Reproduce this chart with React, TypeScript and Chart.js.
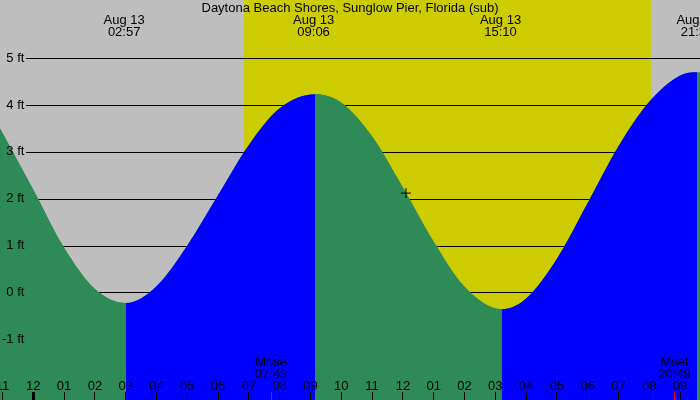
import { useEffect, useRef } from 'react';
import { Chart, registerables } from 'chart.js';

Chart.register(...registerables);

const TITLE = 'Daytona Beach Shores, Sunglow Pier, Florida (sub)';
const DATE_LABEL = 'Aug 13';

// tide curve: hours after midnight Aug 13, feet
const TIDE_HOURS = [
  -1.08, 0, 1, 2, 3.01, 4, 5, 6, 7, 8, 9.15, 10, 11, 12, 13, 14, 15.21, 16, 17, 18, 19, 20, 21, 21.55, 21.65,
];
const TIDE_FEET = [
  3.5, 2.19, 0.95, 0.07, -0.23, 0.13, 1.0, 2.08, 3.15, 3.93, 4.23, 4.05, 3.33, 2.24, 1.08, 0.12, -0.36,
  -0.13, 0.72, 1.91, 3.12, 4.07, 4.63, 4.7, 4.69,
];

// high / low water
const EXTREME_HOURS = [2.95, 9.1, 15.17, 21.55];
const EXTREME_TIMES = ['02:57', '09:06', '15:10', '21:33'];

// moon
const MOON_HOURS = [7.72, 20.82];
const MOON_NAMES = ['Mrise', 'Mset'];
const MOON_TIMES = ['07:43', '20:49'];

const SUNRISE_HOUR = 6.84;
const SUNSET_HOUR = 20.05;

// current time marker
const NOW_HOUR = 12.1;
const NOW_FEET = 2.12;

const X_TICK_HOURS = [-1, 0, 1, 2, 3, 4, 5, 6, 7, 8, 9, 10, 11, 12, 13, 14, 15, 16, 17, 18, 19, 20, 21];
const X_TICK_LABELS = ['11', '12', '01', '02', '03', '04', '05', '06', '07', '08', '09', '10', '11', '12', '01', '02', '03', '04', '05', '06', '07', '08', '09'];
const Y_TICKS = [-1, 0, 1, 2, 3, 4, 5];

const X_MIN = -1.081;
const X_MAX = 21.646;
const Y_MIN = -2.3;
const Y_MAX = 6.245;

const NIGHT = '#bebebe';
const DAY = '#cccc00';
const RISING = '#0000ff';
const FALLING = '#2e8b57';
const FONT = '13px "Liberation Sans", Arial, sans-serif';

const decorPlugin = {
  id: 'tideDecor',
  beforeDraw(chart: any) {
    const { ctx, width, height } = chart;
    const x = chart.scales.x;
    ctx.save();
    ctx.fillStyle = NIGHT;
    ctx.fillRect(0, 0, width, height);
    const x0 = x.getPixelForValue(SUNRISE_HOUR);
    const x1 = x.getPixelForValue(SUNSET_HOUR);
    ctx.fillStyle = DAY;
    ctx.fillRect(x0, 0, x1 - x0, height);
    ctx.restore();
  },
  beforeDatasetsDraw(chart: any) {
    const { ctx, chartArea } = chart;
    const y = chart.scales.y;
    ctx.save();
    ctx.strokeStyle = '#000';
    ctx.lineWidth = 1;
    Y_TICKS.forEach((v) => {
      const py = Math.round(y.getPixelForValue(v)) + 0.5;
      ctx.beginPath();
      ctx.moveTo(26, py);
      ctx.lineTo(chartArea.right, py);
      ctx.stroke();
    });
    ctx.restore();
  },
  afterDraw(chart: any) {
    const { ctx, width, height } = chart;
    const x = chart.scales.x;
    ctx.save();
    ctx.font = FONT;
    ctx.fillStyle = '#000';
    ctx.textAlign = 'center';
    ctx.textBaseline = 'alphabetic';

    ctx.fillText(TITLE, width / 2, 12);

    EXTREME_HOURS.forEach((h, i) => {
      const px = x.getPixelForValue(h);
      ctx.fillText(DATE_LABEL, px, 24);
      ctx.fillText(EXTREME_TIMES[i], px, 36);
    });

    X_TICK_HOURS.forEach((h, i) => {
      const px = x.getPixelForValue(h);
      ctx.fillStyle = '#000';
      ctx.fillText(X_TICK_LABELS[i], px, 390);
      const tx = Math.floor(px);
      if (h === 0) ctx.fillRect(tx - 1, 392, 3, height - 392);
      else ctx.fillRect(tx, 392, 1, height - 392);
    });

    MOON_HOURS.forEach((h, i) => {
      const px = x.getPixelForValue(h);
      ctx.fillStyle = '#000';
      ctx.fillText(MOON_NAMES[i], px, 366);
      ctx.fillText(MOON_TIMES[i], px, 378);
      ctx.fillStyle = '#ff0000';
      ctx.fillRect(Math.floor(px), 392, 1, height - 392);
    });
    ctx.restore();
  },
};

export default function App() {
  const canvasRef = useRef<HTMLCanvasElement>(null);
  const chartRef = useRef<Chart | null>(null);

  useEffect(() => {
    if (!canvasRef.current) return;
    if (chartRef.current) chartRef.current.destroy();

    const tidePoints = TIDE_HOURS.map((h, i) => ({ x: h, y: TIDE_FEET[i] }));

    chartRef.current = new Chart(canvasRef.current, {
      type: 'line',
      data: {
        datasets: [
          {
            type: 'scatter',
            data: [{ x: NOW_HOUR, y: NOW_FEET }],
            pointStyle: 'cross',
            pointRadius: 5,
            borderColor: '#000',
            borderWidth: 1,
          } as any,
          {
            // rising (blue) / falling (green) water
            data: tidePoints,
            borderWidth: 0,
            borderColor: 'transparent',
            backgroundColor: FALLING,
            pointRadius: 0,
            fill: 'start',
            cubicInterpolationMode: 'monotone',
            segment: {
              backgroundColor: (c: any) => (c.p1.parsed.y > c.p0.parsed.y ? RISING : FALLING),
            },
          },
          {
            // solid underlay so segment joins show no seam
            data: tidePoints,
            borderWidth: 0,
            borderColor: 'transparent',
            backgroundColor: FALLING,
            pointRadius: 0,
            fill: 'start',
            cubicInterpolationMode: 'monotone',
          },
        ],
      },
      options: {
        animation: false,
        responsive: true,
        maintainAspectRatio: false,
        events: [],
        layout: { padding: 0, autoPadding: false },
        plugins: {
          legend: { display: false },
          tooltip: { enabled: false },
        },
        scales: {
          x: {
            type: 'linear',
            min: X_MIN,
            max: X_MAX,
            display: false,
          },
          y: {
            type: 'linear',
            position: 'left',
            min: Y_MIN,
            max: Y_MAX,
            afterBuildTicks: (s: any) => {
              s.ticks = Y_TICKS.map((v) => ({ value: v }));
            },
            afterFit: (s: any) => {
              s.width = 0;
              s.paddingTop = 0;
              s.paddingBottom = 0;
            },
            grid: { display: false },
            border: { display: false },
            ticks: {
              mirror: true,
              crossAlign: 'far',
              padding: 2,
              z: 1,
              color: '#000',
              font: { family: '"Liberation Sans", Arial, sans-serif', size: 13 },
              callback: (v: any) => `${v} ft`,
            },
          },
        },
      },
      plugins: [decorPlugin],
    });

    return () => {
      if (chartRef.current) {
        chartRef.current.destroy();
        chartRef.current = null;
      }
    };
  }, []);

  return (
    <div style={{ position: 'absolute', left: 0, top: 0, width: 700, height: 400 }}>
      <canvas ref={canvasRef} />
    </div>
  );
}
